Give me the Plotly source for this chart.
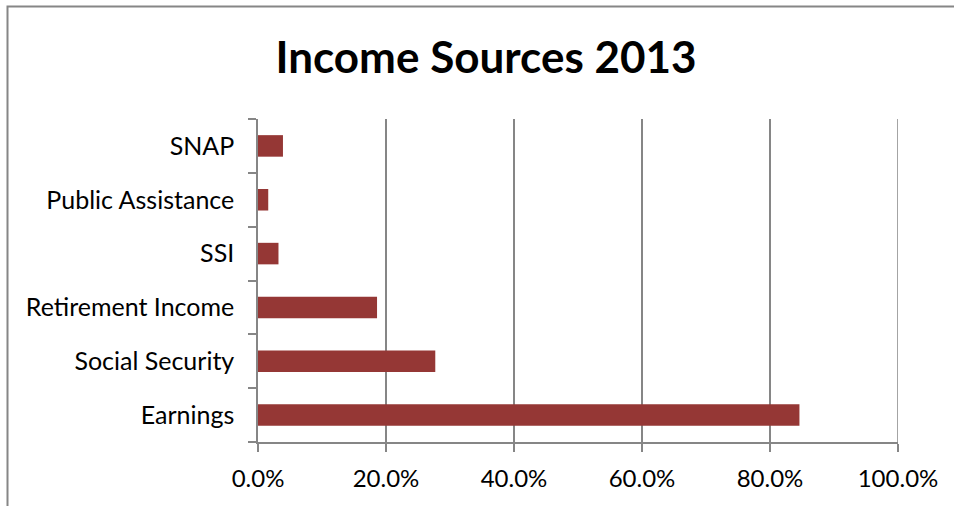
import plotly.graph_objects as go

categories = ["Earnings", "Social Security", "Retirement Income", "SSI", "Public Assistance", "SNAP"]
values = [0.846, 0.277, 0.186, 0.032, 0.016, 0.039]
x_ticks = [0, 0.2, 0.4, 0.6, 0.8, 1.0]
x_tick_labels = ["0.0%", "20.0%", "40.0%", "60.0%", "80.0%", "100.0%"]

W, H = 954, 506
L, R, T, B = 258, 898, 119, 442
gray = "#868686"
FONT = "Lato, Open Sans, sans-serif"

fig = go.Figure(go.Bar(
    y=categories, x=values, orientation="h",
    marker=dict(color="#953735", line=dict(width=0)),
    width=0.4,
))

fig.update_layout(
    width=W, height=H,
    margin=dict(l=L, r=W - R, t=T, b=H - B),
    paper_bgcolor="white", plot_bgcolor="white",
    showlegend=False,
    font=dict(family=FONT, color="black", size=25),
    title=dict(text="<b>Income Sources 2013</b>", xref="container", x=486 / W, xanchor="center",
               y=1 - 58 / H, yanchor="middle",
               font=dict(size=44, family=FONT, color="black")),
    xaxis=dict(range=[0, x_ticks[-1]], tickvals=x_ticks, ticktext=x_tick_labels,
               showgrid=True, gridcolor=gray, gridwidth=1.5,
               showline=True, linecolor=gray, linewidth=1.5,
               ticks="outside", ticklen=8, tickcolor=gray, tickwidth=1.5,
               zeroline=False, fixedrange=True, ticklabelstandoff=6,
               tickfont=dict(size=24)),
    yaxis=dict(showgrid=False, showline=True, linecolor=gray, linewidth=1.5,
               ticks="outside", ticklen=8, tickcolor=gray, tickwidth=1.5,
               tickson="boundaries", range=[-0.5, 5.5], ticklabelstandoff=17,
               tickfont=dict(size=25)),
    shapes=[
        dict(type="rect", xref="paper", yref="paper",
             x0=(7.5 - L) / (R - L), x1=(970 - L) / (R - L),
             y0=(B - 520) / (B - T), y1=(B - 6.5) / (B - T),
             line=dict(color=gray, width=2), layer="below"),
        dict(type="line", xref="x", yref="paper", x0=x_ticks[-1], x1=x_ticks[-1],
             y0=0, y1=1, line=dict(color=gray, width=1.5), layer="below"),
    ],
)

fig.write_html("out.html", config={"displayModeBar": False},
               post_script="document.body.style.margin='0px';document.body.style.overflow='hidden';")
